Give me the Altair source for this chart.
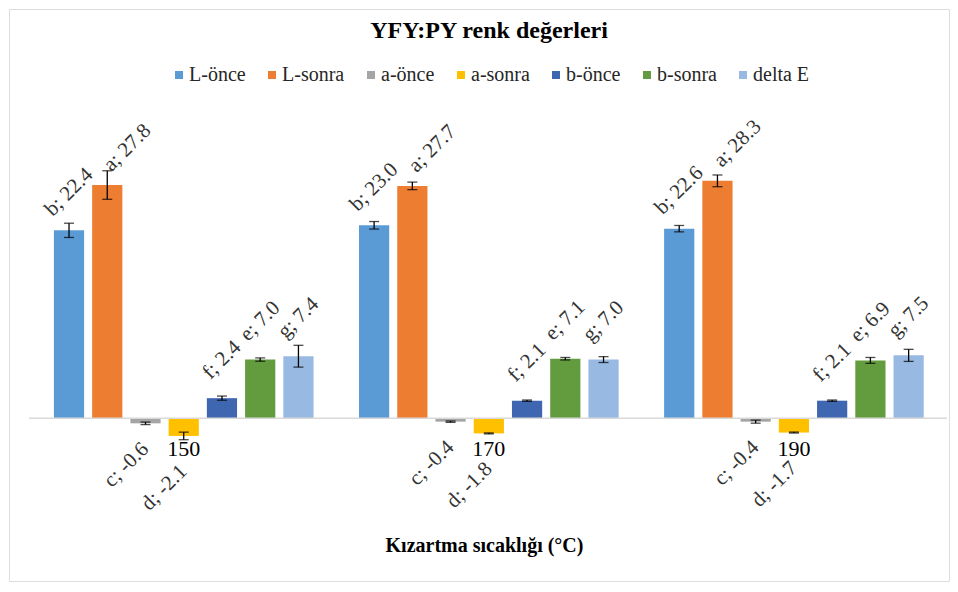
import altair as alt
import pandas as pd

groups = ["150", "170", "190"]
series = ["L-önce", "L-sonra", "a-önce", "a-sonra", "b-önce", "b-sonra", "delta E"]
colors = ["#5B9BD5", "#ED7D31", "#A5A5A5", "#FFC000", "#3F66B0", "#639C3F", "#98BAE2"]

letters_150 = ["b", "a", "c", "d", "f", "e", "g"]
letters_170 = ["b", "a", "c", "d", "f", "e", "g"]
letters_190 = ["b", "a", "c", "d", "f", "e", "g"]

values_150 = [22.4, 27.8, -0.6, -2.1, 2.4, 7.0, 7.4]
values_170 = [23.0, 27.7, -0.4, -1.8, 2.1, 7.1, 7.0]
values_190 = [22.6, 28.3, -0.4, -1.7, 2.1, 6.9, 7.5]

errors_150 = [0.85, 1.7, 0.15, 0.45, 0.25, 0.2, 1.3]
errors_170 = [0.45, 0.45, 0.08, 0.06, 0.08, 0.15, 0.35]
errors_190 = [0.38, 0.7, 0.18, 0.06, 0.08, 0.35, 0.72]

rows = []
for g, vals, errs, lets in zip(groups,
                               [values_150, values_170, values_190],
                               [errors_150, errors_170, errors_190],
                               [letters_150, letters_170, letters_190]):
    for s, v, e, l in zip(series, vals, errs, lets):
        rows.append({"group": g, "series": s, "value": v, "err": e,
                     "label": f"{l}; {v:.1f}"})
df = pd.DataFrame(rows)
df["lo"] = df["value"] - df["err"]
df["hi"] = df["value"] + df["err"]

group_df = pd.DataFrame({"group": groups, "zero": [0] * len(groups)})
zero_df = pd.DataFrame({"z": [0]})

SERIF = "Liberation Serif, Times New Roman, serif"
W, H = 940, 572

yscale = alt.Scale(domain=[-19.39, 48.78], nice=False, zero=False)

X = alt.X("group:N",
          scale=alt.Scale(domain=groups, paddingInner=0.149, paddingOuter=0.115, align=0.64),
          axis=alt.Axis(title="Kızartma sıcaklığı (°C)", labels=False, ticks=False, domain=False,
                        grid=False, titleFont=SERIF, titleFontSize=20, titleFontWeight="bold",
                        titleColor="black", titleBaseline="middle", titleY=-36, titleX=475))
XO = alt.XOffset("series:N", scale=alt.Scale(domain=series, paddingInner=0.21, paddingOuter=0))

base = alt.Chart(df).encode(x=X, xOffset=XO)

bars = base.mark_bar().encode(
    y=alt.Y("value:Q", scale=yscale, axis=None),
    color=alt.Color("series:N", scale=alt.Scale(domain=series, range=colors),
                    legend=alt.Legend(title=None, orient="none", legendX=160, legendY=56,
                                      direction="horizontal", symbolType="square",
                                      symbolSize=64, symbolStrokeWidth=0,
                                      labelFont=SERIF, labelFontSize=20, labelColor="#262626",
                                      labelOffset=0, columnPadding=16, padding=0)),
)

zero_rule = alt.Chart(zero_df).mark_rule(color="#D9D9D9", strokeWidth=1.5).encode(
    y=alt.Y("z:Q", scale=yscale, axis=None),
    x=alt.value(20), x2=alt.value(938),
)

err_rule = base.mark_rule(color="black", strokeWidth=1.3).encode(
    y=alt.Y("lo:Q", scale=yscale, axis=None), y2="hi:Q")
cap_lo = base.mark_tick(color="black", size=10, thickness=1.3, orient="horizontal").encode(
    y=alt.Y("lo:Q", scale=yscale, axis=None))
cap_hi = base.mark_tick(color="black", size=10, thickness=1.3, orient="horizontal").encode(
    y=alt.Y("hi:Q", scale=yscale, axis=None))

text_style = dict(angle=315, baseline="middle", font=SERIF, fontSize=21, color="#333333")

pos_labels = base.transform_filter(
    "datum.value >= 0 && datum.series != 'L-sonra'").mark_text(
    align="center", dx=27, dy=-27, **text_style).encode(
    y=alt.Y("value:Q", scale=yscale, axis=None), text="label:N")

lsonra_labels = base.transform_filter("datum.series == 'L-sonra'").mark_text(
    align="left", dx=12, dy=-12, **text_style).encode(
    y=alt.Y("value:Q", scale=yscale, axis=None), text="label:N")

neg_labels_c = base.transform_filter("datum.series == 'a-önce'").mark_text(
    align="right", dx=-16, dy=16, **text_style).encode(
    y=alt.Y("value:Q", scale=yscale, axis=None), text="label:N")

neg_labels_d = base.transform_filter("datum.series == 'a-sonra'").mark_text(
    align="right", dx=-23, dy=23, **text_style).encode(
    y=alt.Y("value:Q", scale=yscale, axis=None), text="label:N")

group_labels = alt.Chart(group_df).mark_text(
    baseline="alphabetic", dy=38, font=SERIF, fontSize=22, color="black").encode(
    x=X, y=alt.Y("zero:Q", scale=yscale, axis=None), text="group:N")

chart = alt.layer(
    bars, zero_rule, err_rule, cap_lo, cap_hi, pos_labels, lsonra_labels,
    neg_labels_c, neg_labels_d, group_labels
).properties(
    width=W, height=H,
    autosize=alt.AutoSizeParams(type="none"),
    padding={"left": 1, "top": 1, "right": 1, "bottom": 1},
    title=alt.TitleParams("YFY:PY renk değerleri", font=SERIF, fontSize=24, fontWeight="bold",
                          color="black", anchor="middle", dx=10, dy=38),
).configure_view(stroke="#6E6E6E", strokeWidth=1.5).configure(
    background="white", font=SERIF)

chart.save("out.html", embed_options={"renderer": "svg", "actions": False})
